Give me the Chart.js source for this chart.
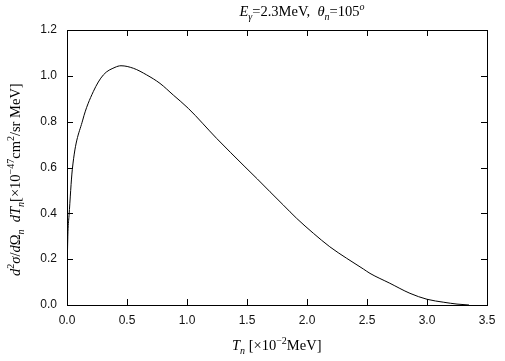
<!DOCTYPE html>
<html>
<head>
<meta charset="utf-8">
<script src="https://cdn.jsdelivr.net/npm/chart.js@4/dist/chart.umd.min.js"></script>
<style>
  html, body { margin: 0; padding: 0; background: #fff; }
  #wrap { position: relative; width: 505px; height: 361px; overflow: hidden; }
  canvas { position: absolute; left: 0; top: 0; }
  .lbl { position: absolute; font-family: "Liberation Serif", "Times New Roman", serif; font-size: 14.5px; color: #000; white-space: nowrap; line-height: 1; }
  .lbl sub, .lbl sup { font-size: 10px; line-height: 0; }
  #title { top: 4px; }
  #xlabel { top: 338px; }
  #ylabel { transform-origin: 0 0; transform: rotate(-90deg); }
</style>
</head>
<body>
<div id="wrap">
  <canvas id="c" width="505" height="361"></canvas>
  <div class="lbl" id="title"><i>E</i><sub><i>γ</i></sub>=2.3MeV,&nbsp; <i>θ</i><sub><i>n</i></sub>=105<sup><i>o</i></sup></div>
  <div class="lbl" id="xlabel"><i>T</i><sub><i>n</i></sub> [×10<sup>−2</sup>MeV]</div>
  <div class="lbl" id="ylabel"><i>d</i><sup>2</sup><i>σ</i>/<i>d</i>Ω<sub><i>n</i></sub>&nbsp; <i>dT</i><sub><i>n</i></sub>[×10<sup>−47</sup>cm<sup>2</sup>/sr MeV]</div>
</div>
<script>
// Data
const energyT = [0.003, 0.008, 0.017, 0.044, 0.131, 0.219, 0.303, 0.4, 0.45, 0.553, 0.664, 0.775, 0.886, 1.011, 1.247, 1.483, 1.586, 1.692, 1.803, 1.914, 2.053, 2.19, 2.33, 2.47, 2.525, 2.69, 2.858, 3.0, 3.14, 3.25, 3.35];
const crossSection = [0.21, 0.32, 0.39, 0.59, 0.807, 0.931, 1.004, 1.037, 1.044, 1.033, 1.004, 0.967, 0.916, 0.858, 0.727, 0.603, 0.55, 0.494, 0.436, 0.378, 0.313, 0.254, 0.204, 0.157, 0.138, 0.095, 0.051, 0.025, 0.012, 0.004, 0.0];
const xTicks = [0, 0.5, 1.0, 1.5, 2.0, 2.5, 3.0, 3.5];
const yTicks = [0, 0.2, 0.4, 0.6, 0.8, 1.0, 1.2];

const points = energyT.map((x, i) => ({ x: x, y: crossSection[i] }));

const frameTicks = {
  id: 'frameTicks',
  afterDraw(chart) {
    const ctx = chart.ctx;
    const a = chart.chartArea;
    const xs = chart.scales.x, ys = chart.scales.y;
    const L = 6;
    ctx.save();
    ctx.strokeStyle = '#000';
    ctx.lineWidth = 1;
    ctx.beginPath();
    xTicks.forEach(v => {
      const px = Math.round(xs.getPixelForValue(v)) + 0.5;
      ctx.moveTo(px, a.bottom); ctx.lineTo(px, a.bottom - L);
      ctx.moveTo(px, a.top); ctx.lineTo(px, a.top + L);
    });
    yTicks.forEach(v => {
      const py = Math.round(ys.getPixelForValue(v)) + 0.5;
      ctx.moveTo(a.left, py); ctx.lineTo(a.left + L, py);
      ctx.moveTo(a.right, py); ctx.lineTo(a.right - L, py);
    });
    ctx.stroke();
    ctx.strokeRect(Math.round(a.left) + 0.5, Math.round(a.top) + 0.5, Math.round(a.right - a.left), Math.round(a.bottom - a.top));
    ctx.restore();
  }
};

const PAD_L = 5, PAD_B = 5;
new Chart(document.getElementById('c'), {
  type: 'line',
  data: {
    datasets: [{
      data: points,
      borderColor: '#000',
      borderWidth: 1,
      pointRadius: 0,
      fill: false,
      cubicInterpolationMode: 'monotone'
    }]
  },
  options: {
    responsive: false,
    animation: false,
    devicePixelRatio: 1,
    layout: { padding: { left: PAD_L, right: 18, top: 30, bottom: PAD_B } },
    plugins: { legend: { display: false }, tooltip: { enabled: false }, title: { display: false } },
    scales: {
      x: {
        type: 'linear', min: 0, max: 3.5,
        afterBuildTicks: s => { s.ticks = xTicks.map(v => ({ value: v })); },
        afterFit: s => { s.height = 361 - 305 - PAD_B; },
        grid: { display: false, drawTicks: false },
        border: { display: false },
        ticks: { padding: 8, color: '#111', font: { family: 'Liberation Sans', size: 12 }, callback: v => Number(v).toFixed(1), maxRotation: 0 }
      },
      y: {
        type: 'linear', min: 0, max: 1.2,
        afterBuildTicks: s => { s.ticks = yTicks.map(v => ({ value: v })); },
        afterFit: s => { s.width = 67 - PAD_L; },
        grid: { display: false, drawTicks: false },
        border: { display: false },
        ticks: { padding: 10, color: '#111', font: { family: 'Liberation Sans', size: 12 }, callback: v => Number(v).toFixed(1) }
      }
    }
  },
  plugins: [frameTicks]
});

// Place HTML labels
const title = document.getElementById('title');
title.style.left = (302 - title.offsetWidth / 2) + 'px';
const xl = document.getElementById('xlabel');
xl.style.left = (277 - xl.offsetWidth / 2) + 'px';
const yl = document.getElementById('ylabel');
const w = yl.offsetWidth, h = yl.offsetHeight;
yl.style.left = (15 - h / 2) + 'px';
yl.style.top = (179 + w / 2) + 'px';
</script>
</body>
</html>
